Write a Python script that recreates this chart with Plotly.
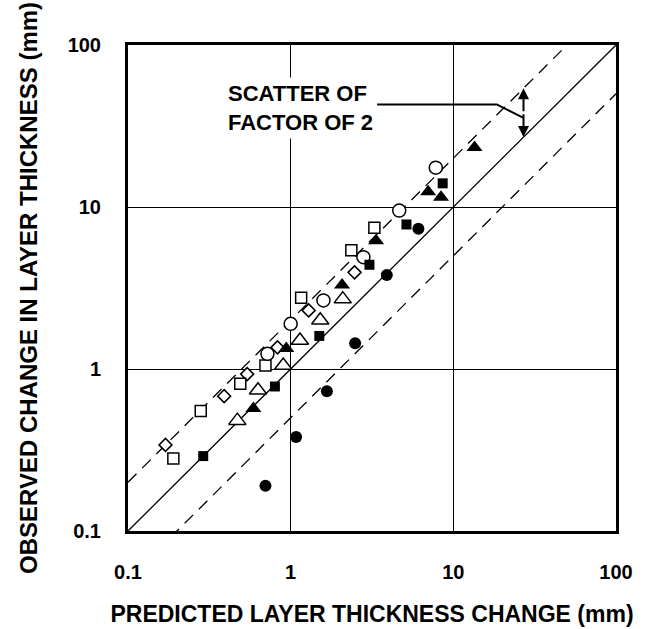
import numpy as np
import plotly.graph_objects as go

# Observed vs predicted change in layer thickness (mm), one list pair per symbol
open_diamond_x = [0.17, 0.39, 0.54, 0.83, 1.29, 2.47]
open_diamond_y = [0.34, 0.68, 0.93, 1.36, 2.3, 3.95]

open_square_x = [0.19, 0.28, 0.49, 0.70, 1.16, 2.36, 3.27]
open_square_y = [0.28, 0.55, 0.81, 1.05, 2.75, 5.4, 7.45]

open_circle_x = [0.72, 1.0, 1.59, 2.8, 4.65, 7.8]
open_circle_y = [1.24, 1.9, 2.65, 4.9, 9.5, 17.5]

open_triangle_x = [0.47, 0.63, 0.90, 1.14, 1.52, 2.09]
open_triangle_y = [0.48, 0.74, 1.05, 1.5, 2.0, 2.7]

filled_triangle_x = [0.59, 0.94, 2.07, 3.35, 7.0, 8.4, 13.5]
filled_triangle_y = [0.57, 1.34, 3.3, 6.2, 12.4, 11.5, 23.3]

filled_square_x = [0.29, 0.80, 1.50, 3.05, 5.15, 8.6]
filled_square_y = [0.29, 0.78, 1.6, 4.4, 7.8, 14.0]

filled_circle_x = [0.70, 1.08, 1.67, 2.49, 3.9, 6.1]
filled_circle_y = [0.19, 0.38, 0.73, 1.44, 3.8, 7.35]

# Reference lines: perfect agreement and a factor-of-2 band
axis_span = [0.1, 100]
band_factors = [0.5, 1.0, 2.0]

tick_values = [0.1, 1, 10, 100]
tick_labels = ["0.1", "1", "10", "100"]

# Scatter band callout: arrow spans y = x .. y = 2x at this predicted value
arrow_x = 27
leader_x = [3.4, 18.5, 27]
leader_y = [43, 43, 35.5]
label_pos = (0.39, 41)

FONT = "Liberation Sans, Arial, sans-serif"
INK = "black"

fig = go.Figure()

for f in band_factors:
    fig.add_trace(go.Scatter(
        x=axis_span, y=[v * f for v in axis_span], mode="lines",
        line=dict(color=INK, width=1.3, dash="solid" if f == 1.0 else "12px,8px"),
        hoverinfo="skip", showlegend=False, cliponaxis=True,
    ))

def add_points(xs, ys, symbol, size, filled):
    fig.add_trace(go.Scatter(
        x=xs, y=ys, mode="markers", showlegend=False,
        marker=dict(symbol=symbol, size=size,
                    color=INK if filled else "white",
                    line=dict(color=INK, width=0 if filled else 1.5)),
    ))

add_points(open_diamond_x, open_diamond_y, "diamond", 10, False)
add_points(open_square_x, open_square_y, "square", 11, False)
add_points(open_circle_x, open_circle_y, "circle", 13, False)
add_points(open_triangle_x, open_triangle_y, "triangle-up", 15, False)
add_points(filled_triangle_x, filled_triangle_y, "triangle-up", 14, True)
add_points(filled_square_x, filled_square_y, "square", 10, True)
add_points(filled_circle_x, filled_circle_y, "circle", 12, True)

# Leader from the label to the arrow
fig.add_trace(go.Scatter(
    x=leader_x, y=leader_y, mode="lines",
    line=dict(color=INK, width=2), hoverinfo="skip", showlegend=False,
))

# Double-headed arrow between y = x and y = 2x
mid_y = np.sqrt(arrow_x * 2 * arrow_x)
for tip_y in (2 * arrow_x, arrow_x):
    fig.add_annotation(
        x=np.log10(arrow_x), y=np.log10(tip_y), xref="x", yref="y",
        ax=np.log10(arrow_x), ay=np.log10(mid_y), axref="x", ayref="y",
        showarrow=True, arrowhead=2, arrowsize=1.1, arrowwidth=2,
        arrowcolor=INK, text="",
    )

fig.add_annotation(
    x=np.log10(label_pos[0]), y=np.log10(label_pos[1]), xref="x", yref="y",
    xanchor="left", yanchor="middle", align="left", showarrow=False,
    text="SCATTER OF<br>FACTOR OF 2",
    font=dict(family=FONT, size=22, color=INK, weight="bold"),
    bgcolor="white", borderpad=3,
)

axis_common = dict(
    type="log", range=[-1, 2], tickvals=tick_values, ticktext=tick_labels,
    showgrid=True, gridcolor=INK, gridwidth=1,
    showline=True, linecolor=INK, linewidth=3, mirror=True,
    ticks="", zeroline=False,
    tickfont=dict(family=FONT, size=20, color=INK, weight="bold"),
)

fig.update_xaxes(
    **axis_common, ticklabelstandoff=21,
    title=dict(text="PREDICTED LAYER THICKNESS CHANGE (mm)", standoff=24,
               font=dict(family=FONT, size=23, color=INK, weight="bold")),
)
fig.update_yaxes(
    **axis_common, ticklabelstandoff=20,
    title=dict(text="OBSERVED CHANGE IN LAYER THICKNESS (mm)", standoff=24,
               font=dict(family=FONT, size=24, color=INK, weight="bold")),
)

fig.update_layout(
    width=654, height=629,
    margin=dict(l=128, r=38, t=45, b=98, autoexpand=False),
    paper_bgcolor="white", plot_bgcolor="white",
    showlegend=False,
)

fig.write_html("out.html")
